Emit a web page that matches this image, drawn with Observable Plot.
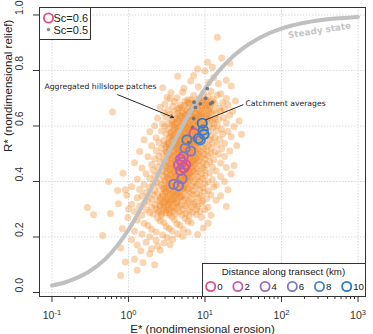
<!DOCTYPE html>
<html><head><meta charset="utf-8">
<script src="https://cdn.jsdelivr.net/npm/d3@7"></script>
<script src="https://cdn.jsdelivr.net/npm/@observablehq/plot@0.6"></script>
<style>
html,body{margin:0;padding:0;background:#fff;}
#wrap{position:relative;width:373px;height:334px;overflow:hidden;font-family:"Liberation Sans",Arial,sans-serif;}
#wrap > svg{display:block}
.lg{position:absolute;background:#fff;border:1px solid #333;box-sizing:border-box;}
.lg svg{position:absolute;left:0;top:0;overflow:visible;font-family:"Liberation Sans",Arial,sans-serif;}
</style></head><body><div id="wrap"></div>
<script>
// ---- axis ticks / labels ----
const xTicks = [0.1, 1, 10, 100, 1000];
const xMinor = [0.2,0.3,0.4,0.5,0.6,0.7,0.8,0.9, 2,3,4,5,6,7,8,9, 20,30,40,50,60,70,80,90, 200,300,400,500,600,700,800,900];
const yTicks = [0, 0.2, 0.4, 0.6, 0.8, 1.0];
const xTitle = "E* (nondimensional erosion)";
const yTitle = "R* (nondimensional relief)";

// ---- steady state curve ----
const curveE = [0.1,0.15,0.2,0.3,0.5,0.7,1,1.5,2,3,5,7,10,15,20,30,50,70,100,200,300,500,1000];
const curveR = [0.025,0.037,0.050,0.074,0.121,0.166,0.226,0.310,0.377,0.477,0.597,0.668,0.734,0.797,0.834,0.876,0.915,0.935,0.951,0.972,0.980,0.987,0.993];

// ---- aggregated hillslope patches (E*, R*): whole cloud ----
const patchE = [
14.5, 16.5, 10.8,21, 12.5,8.0, 10.0,
4.4,7.1,13, 6.5,11.2,15,19, 5.3,8.2,22,2.8, 5.1,9.5,12,16,3.6, 7.1,11,14.5,3.2,
3.5,4.3,6.0,8.8,10.5,19, 4.0,5.5,7.5,9.4,12.5,17,25, 3.0,4.8,6.2,8.0,10,13.5,20,
2.6,3.8,5.0,6.8,9.0,11.5,15.5, 3.3,4.4,5.8,7.2,8.5,10.8,13,18,23,
0.62,2.9,4.0,5.2,6.4,7.8,9.6,12,16, 3.5,4.7,5.6,6.9,8.3,10.5,14,21,
2.4,3.1,4.2,5.0,6.0,7.4,9.0,11.5,13.5,17.5, 3.7,4.5,5.4,6.6,8.0,9.8,12.5,15,28,
2.8,3.4,4.1,4.9,5.8,7.0,8.6,10.5,13,19, 2.2,3.0,3.9,4.6,5.3,6.2,7.6,9.3,11.5,14.5,24,
3.3,4.3,5.0,5.9,6.8,8.2,10,12.5,16.5, 1.9,2.7,3.6,4.4,5.5,6.4,7.4,9.0,11,14,20,
3.1,4.0,4.8,5.7,6.9,8.0,9.8,12,17,30, 2.3,3.5,4.3,5.1,6.0,7.2,8.6,10.5,13.5,22,
1.6,2.9,3.8,4.6,5.4,6.5,7.8,9.2,11.5,15.5, 2.5,3.3,4.1,5.0,5.8,6.8,8.3,10,12.5,18,
2.0,3.0,3.7,4.5,5.3,6.3,7.5,9.0,11,14.5,26, 2.7,3.4,4.2,4.9,5.7,6.7,8.0,9.6,12,16.5,
1.4,2.3,3.1,3.9,4.6,5.4,6.2,7.3,8.7,10.5,13.5,21, 2.8,3.5,4.3,5.0,5.9,6.9,8.2,9.8,12,15,
1.8,2.5,3.2,4.0,4.7,5.5,6.4,7.6,9.0,11,18, 2.2,2.9,3.6,4.4,5.2,6.0,7.1,8.4,10,13,
1.2,2.6,3.3,4.1,4.8,5.7,6.6,7.9,9.4,11.5,16, 2.0,3.0,3.8,4.5,5.3,6.2,7.3,8.8,10.5,24,
1.5,2.4,3.2,3.9,4.7,5.5,6.5,7.8,9.5,12.5,19, 2.1,2.8,3.5,4.2,5.0,5.9,6.9,8.2,10,14,
0.85,1.7,2.5,3.1,3.8,4.5,5.3,6.2,7.5,9.0,11.5,22, 2.2,2.9,3.5,4.2,4.9,5.7,6.7,8.0,10,16,
1.3,1.9,2.6,3.3,4.0,4.7,5.5,6.4,7.6,9.2,12.5, 0.55,2.3,3.0,3.7,4.4,5.1,6.0,7.1,8.6,11,18,
1.6,2.1,2.7,3.4,4.1,4.8,5.6,6.7,8.0,10,14, 1.1,1.9,2.5,3.1,3.8,4.5,5.3,6.2,7.5,9.3,13,
0.91,0.72,1.4,2.2,2.9,3.5,4.2,5.0,5.9,7.0,8.6,11,20, 1.7,2.4,3.0,3.7,4.4,5.3,6.4,7.8,9.8,
0.95,1.5,2.1,2.8,3.4,4.1,4.9,5.8,7.0,8.8,12,16, 1.3,2.0,2.6,3.2,3.9,4.7,5.6,6.8,8.3,10.5,
1.8,2.4,3.0,3.6,4.3,5.1,6.1,7.4,9.2,14, 0.74,1.1,1.6,2.2,2.8,3.4,4.1,4.9,5.9,7.2,9.0,
0.29,1.4,2.0,2.6,3.2,3.9,4.6,5.5,6.6,8.0,11,19, 1.0,1.7,2.3,2.9,3.5,4.3,5.2,6.3,7.8,10,
0.58,1.2,1.9,2.5,3.1,3.8,4.6,5.6,6.9,8.6, 0.35,1.5,2.1,2.7,3.4,4.1,5.0,6.2,7.7,12,
0.98,2.4,3.7,5.5,9.0, 1.3,2.6,4.0,6.0, 1.6,2.9,4.3,6.6,11, 1.8,3.1,4.7,
0.83,2.0,3.4,5.2,9.5, 1.2,2.3,3.7,6.0, 0.46,1.5,2.8,4.4,8.0, 1.9,3.2,5.1,
1.1,2.3,3.8, 1.7,2.9, 1.3,2.4,3.5, 0.79,2.0, 1.45,2.6, 1.9, 1.2, 1.55,0.91, 2.2, 1.3, 0.79
];
const patchR = [
0.92, 0.845, 0.83,0.826, 0.812,0.805, 0.798,
0.779,0.782,0.775, 0.762,0.757,0.753,0.765, 0.736,0.741,0.744,0.738, 0.722,0.718,0.725,0.716,0.72, 0.71,0.706,0.712,0.703,
0.698,0.702,0.695,0.70,0.693,0.699, 0.688,0.69,0.685,0.692,0.687,0.684,0.69, 0.679,0.676,0.681,0.678,0.675,0.68,0.677,
0.668,0.671,0.667,0.665,0.669,0.672,0.664, 0.658,0.661,0.655,0.66,0.657,0.662,0.656,0.659,0.654,
0.65,0.648,0.652,0.646,0.651,0.647,0.645,0.649,0.653, 0.641,0.638,0.642,0.636,0.64,0.637,0.643,0.639,
0.628,0.632,0.627,0.631,0.626,0.63,0.633,0.629,0.625,0.631, 0.618,0.621,0.617,0.622,0.619,0.616,0.62,0.623,0.618,
0.608,0.611,0.607,0.612,0.609,0.606,0.61,0.613,0.608,0.611, 0.601,0.598,0.602,0.597,0.603,0.599,0.601,0.596,0.6,0.602,0.598,
0.588,0.591,0.587,0.592,0.589,0.586,0.59,0.593,0.588, 0.579,0.582,0.578,0.581,0.577,0.583,0.58,0.576,0.579,0.582,0.58,
0.571,0.568,0.572,0.567,0.57,0.573,0.569,0.566,0.571,0.57, 0.558,0.561,0.557,0.562,0.559,0.556,0.56,0.563,0.558,0.561,
0.55,0.548,0.552,0.547,0.551,0.549,0.553,0.546,0.55,0.552, 0.541,0.538,0.542,0.537,0.54,0.543,0.539,0.536,0.541,0.538,
0.529,0.532,0.528,0.531,0.527,0.533,0.53,0.526,0.529,0.532,0.53, 0.521,0.518,0.522,0.517,0.52,0.523,0.519,0.516,0.521,0.518,
0.508,0.511,0.507,0.512,0.509,0.506,0.51,0.513,0.508,0.511,0.507,0.51, 0.501,0.498,0.502,0.497,0.5,0.503,0.499,0.496,0.501,0.498,
0.489,0.492,0.488,0.491,0.487,0.493,0.49,0.486,0.489,0.492,0.49, 0.481,0.478,0.482,0.477,0.48,0.483,0.479,0.476,0.481,0.478,
0.468,0.471,0.467,0.472,0.469,0.466,0.47,0.473,0.468,0.471,0.467, 0.461,0.458,0.462,0.457,0.46,0.463,0.459,0.456,0.461,0.458,
0.449,0.452,0.448,0.451,0.447,0.453,0.45,0.446,0.449,0.452,0.45, 0.441,0.438,0.442,0.437,0.44,0.443,0.439,0.436,0.441,0.438,
0.43,0.428,0.431,0.427,0.432,0.429,0.426,0.43,0.433,0.428,0.431,0.427, 0.421,0.418,0.422,0.417,0.42,0.423,0.419,0.416,0.421,0.418,
0.408,0.411,0.407,0.412,0.409,0.406,0.41,0.413,0.408,0.411,0.407, 0.40,0.398,0.402,0.397,0.401,0.403,0.399,0.396,0.401,0.398,0.40,
0.389,0.392,0.388,0.391,0.387,0.393,0.39,0.386,0.389,0.392,0.388, 0.381,0.378,0.382,0.377,0.38,0.383,0.379,0.376,0.381,0.378,0.38,
0.37,0.368,0.371,0.367,0.372,0.369,0.366,0.37,0.373,0.368,0.371,0.367,0.37, 0.361,0.358,0.362,0.357,0.36,0.363,0.359,0.356,0.361,
0.35,0.348,0.351,0.347,0.352,0.349,0.346,0.35,0.353,0.348,0.351,0.349, 0.341,0.338,0.342,0.337,0.34,0.343,0.339,0.336,0.341,0.338,
0.329,0.332,0.328,0.331,0.327,0.333,0.33,0.326,0.329,0.332, 0.32,0.318,0.322,0.317,0.321,0.319,0.323,0.316,0.32,0.318,0.321,
0.306,0.311,0.307,0.312,0.309,0.306,0.31,0.313,0.308,0.311,0.307,0.31, 0.301,0.298,0.302,0.297,0.30,0.303,0.299,0.296,0.301,0.298,
0.285,0.292,0.288,0.291,0.287,0.293,0.29,0.286,0.289,0.292, 0.28,0.278,0.282,0.277,0.28,0.283,0.279,0.276,0.281,0.278,
0.27,0.268,0.272,0.267,0.271, 0.261,0.258,0.262,0.257, 0.249,0.252,0.248,0.251,0.25, 0.241,0.238,0.242,
0.23,0.228,0.231,0.227,0.232, 0.221,0.218,0.222,0.217, 0.205,0.211,0.207,0.212,0.209, 0.201,0.198,0.202,
0.19,0.188,0.192, 0.181,0.178, 0.171,0.168,0.172, 0.16,0.158, 0.15,0.152, 0.14, 0.12, 0.108,0.11, 0.10, 0.08, 0.061
];
// ---- aggregated hillslope patches: dense core of the cloud ----
const coreE = [
6.6,8.3,10.2,12.8, 5.9,7.0,8.6,10.9, 5.4,7.4,9.3,11.8, 4.6,6.1,7.9,10.2, 5.0,6.8,9.2,11.2,
4.4,6.0,7.3,8.9,11.3, 4.7,5.5,6.7,8.2,10.1, 4.0,5.8,7.0,8.6,10.8, 4.3,5.1,6.2,7.6,9.3,
3.7,5.4,6.5,8.0,9.8, 4.0,4.8,5.6,7.1,8.8, 3.9,5.2,6.1,7.8,9.6, 3.6,4.4,5.3,6.4,7.5,8.7,
3.8,4.7,5.5,6.6,8.1, 3.4,4.2,5.0,6.0,7.0,8.4, 3.6,4.5,5.4,6.3,7.4, 3.3,4.1,4.9,5.8,6.9,8.1,
3.1,3.9,4.6,5.5,6.3,7.3, 3.4,4.3,5.1,6.0,6.8, 3.2,3.8,4.6,5.4,6.4,7.6,
3.4,4.2,5.0,5.9,7.0,8.2, 3.7,4.5,5.4,6.4,7.6, 3.3,4.1,5.0,5.9,7.1, 3.6,4.4,5.3,6.3,7.4,
3.2,4.0,4.9,5.8,6.9, 3.5,4.3,5.2,6.2, 3.1,3.9,4.7,5.6,6.7, 3.6,4.4,5.3,6.3, 3.2,4.0,4.8,5.8,
3.5,4.3,5.2,6.2, 3.0,3.8,4.6,5.5, 3.3,4.1,5.0, 2.9,3.6,4.4,5.3, 3.1,3.9,4.7, 2.8,3.5,4.3,
3.2,3.9,4.8, 2.6,3.1,3.8, 2.9,3.5,4.3, 2.6,3.3, 2.9,3.7, 2.4,3.1, 2.7,3.4
];
const coreR = [
0.695,0.697,0.693,0.696, 0.685,0.683,0.687,0.684, 0.675,0.677,0.673,0.676, 0.665,0.667,0.663,0.666, 0.655,0.657,0.653,0.656,
0.645,0.647,0.643,0.646,0.644, 0.635,0.637,0.633,0.636,0.634, 0.625,0.627,0.623,0.626,0.624, 0.615,0.617,0.613,0.616,0.614,
0.605,0.607,0.603,0.606,0.604, 0.595,0.597,0.593,0.596,0.594, 0.585,0.587,0.583,0.586,0.584, 0.575,0.577,0.573,0.576,0.574,0.578,
0.565,0.567,0.563,0.566,0.564, 0.555,0.557,0.553,0.556,0.554,0.558, 0.545,0.547,0.543,0.546,0.544, 0.535,0.537,0.533,0.536,0.534,0.538,
0.525,0.527,0.523,0.526,0.524,0.528, 0.515,0.517,0.513,0.516,0.514, 0.505,0.507,0.503,0.506,0.504,0.508,
0.495,0.497,0.493,0.496,0.494,0.498, 0.485,0.487,0.483,0.486,0.484, 0.475,0.477,0.473,0.476,0.474, 0.465,0.467,0.463,0.466,0.464,
0.455,0.457,0.453,0.456,0.454, 0.445,0.447,0.443,0.446, 0.435,0.437,0.433,0.436,0.434, 0.425,0.427,0.423,0.426, 0.415,0.417,0.413,0.416,
0.405,0.407,0.403,0.406, 0.395,0.397,0.393,0.396, 0.385,0.387,0.383, 0.375,0.377,0.373,0.376, 0.365,0.367,0.363, 0.355,0.357,0.353,
0.345,0.347,0.343, 0.335,0.337,0.333, 0.325,0.327,0.323, 0.315,0.317, 0.305,0.307, 0.295,0.297, 0.285,0.287
];

// ---- catchment averages, Sc = 0.6 (rings) ----
const catchE    = [9.2, 9.7, 8.7, 7.2, 5.8, 8.2, 6.5, 5.2, 4.8, 5.0, 5.6, 4.5, 5.3, 4.8, 5.0, 3.9, 4.5, 5.5, 9.5];
const catchR    = [0.61,0.57,0.55,0.574,0.55,0.555,0.51,0.49,0.48,0.47,0.46,0.46,0.45,0.44,0.41,0.39,0.385,0.52,0.585];
const catchDist = [10,  10,  8,   1,   8,   9,   6,   2,   2,   2,   1,   2,   0,   3,   4,   5,   6,   6,   9];
// ---- catchment averages, Sc = 0.5 (small dots) ----
const sc5E = [11.8, 8.7, 10.2, 7.2, 10.7, 7.5, 7.1, 6.9, 12.5, 6.1];
const sc5R = [0.68, 0.68, 0.70, 0.686, 0.735, 0.667, 0.627, 0.595, 0.685, 0.54];

// ---- legend ----
const legendDist = [0, 2, 4, 6, 8, 10];
const legendColors = ["#dc4f8a", "#c45caf", "#9a6cc2", "#7b78c6", "#4683cc", "#2879cc"];
const legendTitle = "Distance along transect (km)";
const scLabels = ["Sc=0.6", "Sc=0.5"];

// ---- annotations ----
const annText = [
  {E: 0.0798, R: 0.742, label: "Aggregated hillslope patches"},
  {E: 33.8,  R: 0.681, label: "Catchment averages"}
];
const annArrow = [{E1: 0.72, R1: 0.713, E2: 3.87, R2: 0.631}];
const annLink  = [{E1: 31.8, R1: 0.677, E2: 10.2, R2: 0.622}];
const steadyLabel = [{E: 314, R: 0.944, label: "Steady state"}];

// ---- build ----
const patches = patchE.map((e, i) => ({E: e, R: patchR[i]}))
  .concat(coreE.map((e, i) => ({E: e, R: coreR[i]})));
const curve = curveE.map((e, i) => ({E: e, R: curveR[i]}));
const distColor = d3.scaleLinear().domain(legendDist).range(legendColors);
const catches = catchE.map((e, i) => ({E: e, R: catchR[i], c: distColor(catchDist[i])}));
const sc5 = sc5E.map((e, i) => ({E: e, R: sc5R[i]}));

const ink = "#2a2a2a";
const chart = Plot.plot({
  width: 373, height: 334,
  marginLeft: 39, marginRight: 8, marginTop: 7, marginBottom: 38,
  style: {fontFamily: "Liberation Sans, Arial, sans-serif", background: "#fff", overflow: "visible"},
  x: {type: "log", domain: [0.0687, 1253], axis: null, label: null},
  y: {domain: [-0.0144, 1.027], axis: null, label: null},
  marks: [
    Plot.gridX(xTicks, {stroke: "#d9d9d9", strokeOpacity: 1, strokeDasharray: "1.5,1.5"}),
    Plot.gridY(yTicks, {stroke: "#d9d9d9", strokeOpacity: 1, strokeDasharray: "1.5,1.5"}),
    Plot.dot(patches, {x: "E", y: "R", r: 3.5, fill: "#f28a2a", fillOpacity: 0.36, stroke: null}),
    Plot.line(curve, {x: "E", y: "R", stroke: "#c0c0c0", strokeWidth: 4, curve: "monotone-x", strokeLinecap: "round"}),
    Plot.dot(sc5, {x: "E", y: "R", r: 1.9, fill: "#5f6d82", fillOpacity: 0.85}),
    Plot.dot(catches, {x: "E", y: "R", r: 4.6, stroke: "c", strokeWidth: 1.9, fill: "none"}),
    Plot.arrow(annArrow, {x1: "E1", y1: "R1", x2: "E2", y2: "R2", stroke: ink, strokeWidth: 1, headLength: 5}),
    Plot.link(annLink, {x1: "E1", y1: "R1", x2: "E2", y2: "R2", stroke: ink, strokeWidth: 1}),
    Plot.text(annText, {x: "E", y: "R", text: "label", textAnchor: "start", fontSize: 7.7, fontFamily: "DejaVu Sans", fill: "#222"}),
    Plot.text(steadyLabel, {x: "E", y: "R", text: "label", rotate: -9, fontSize: 8.9, fontWeight: "bold", fontFamily: "DejaVu Sans", fill: "#c6c6c6"}),
    Plot.frame({stroke: "#333", strokeWidth: 1}),
    Plot.axisX(xTicks, {anchor: "bottom", tickSize: 6, tickFormat: () => "", label: null, stroke: "#333"}),
    Plot.axisX(xMinor, {anchor: "bottom", tickSize: 3, tickFormat: () => "", label: null, stroke: "#333"}),
    Plot.axisY(yTicks, {anchor: "left", tickSize: 6, tickFormat: () => "", label: null, stroke: "#333"}),
    Plot.text(xTicks, {x: d => d, frameAnchor: "bottom", dy: 22, text: d => "10^" + Math.round(Math.log10(d)), fontSize: 10.5, fill: "#333"}),
    Plot.text(yTicks, {y: d => d, frameAnchor: "left", dx: -20, rotate: -90, text: d => d.toFixed(1), fontSize: 10.5, fill: "#333"}),
    Plot.text([xTitle], {frameAnchor: "bottom", dy: 36.5, text: d => d, fontSize: 11.5, fill: "#222"}),
    Plot.text([yTitle], {frameAnchor: "left", dx: -31, rotate: -90, text: d => d, fontSize: 11.5, fill: "#222"})
  ]
});

// superscript exponents on x tick labels
d3.select(chart).selectAll("text").each(function() {
  const m = /^10\^(-?\d+)$/.exec(this.textContent);
  if (m) {
    const t = d3.select(this);
    t.text("");
    t.append("tspan").text("10");
    t.append("tspan").attr("dy", "-0.5em").attr("font-size", "0.72em").text(m[1]);
  }
});

const wrap = document.getElementById("wrap");
wrap.appendChild(chart);

// top-left legend
const lg1 = document.createElement("div");
lg1.className = "lg";
Object.assign(lg1.style, {left: "39px", top: "7px", width: "52px", height: "33px"});
lg1.innerHTML = `<svg width="52" height="33">
  <circle cx="8.5" cy="10" r="4.6" fill="none" stroke="${legendColors[0]}" stroke-width="1.8"/>
  <text x="13.5" y="14" font-size="11" fill="#222">${scLabels[0]}</text>
  <circle cx="8.5" cy="21.5" r="1.7" fill="#8a8a8a"/>
  <text x="13.5" y="25.5" font-size="11" fill="#222">${scLabels[1]}</text></svg>`;
wrap.appendChild(lg1);

// bottom-right legend
const lg2 = document.createElement("div");
lg2.className = "lg";
Object.assign(lg2.style, {left: "202px", top: "263px", width: "164px", height: "34px"});
let items = "";
legendDist.forEach((d, i) => {
  const cx = 7.7 + 27.2 * i;
  items += `<circle cx="${cx}" cy="22.5" r="4.6" fill="none" stroke="${legendColors[i]}" stroke-width="1.8"/>`;
  items += `<text x="${cx + 6.5}" y="26" font-size="9.7" fill="#222">${d}</text>`;
});
lg2.innerHTML = `<svg width="164" height="34">
  <text x="80.5" y="10.5" font-size="9.7" text-anchor="middle" fill="#222">${legendTitle}</text>${items}</svg>`;
wrap.appendChild(lg2);
</script></body></html>
